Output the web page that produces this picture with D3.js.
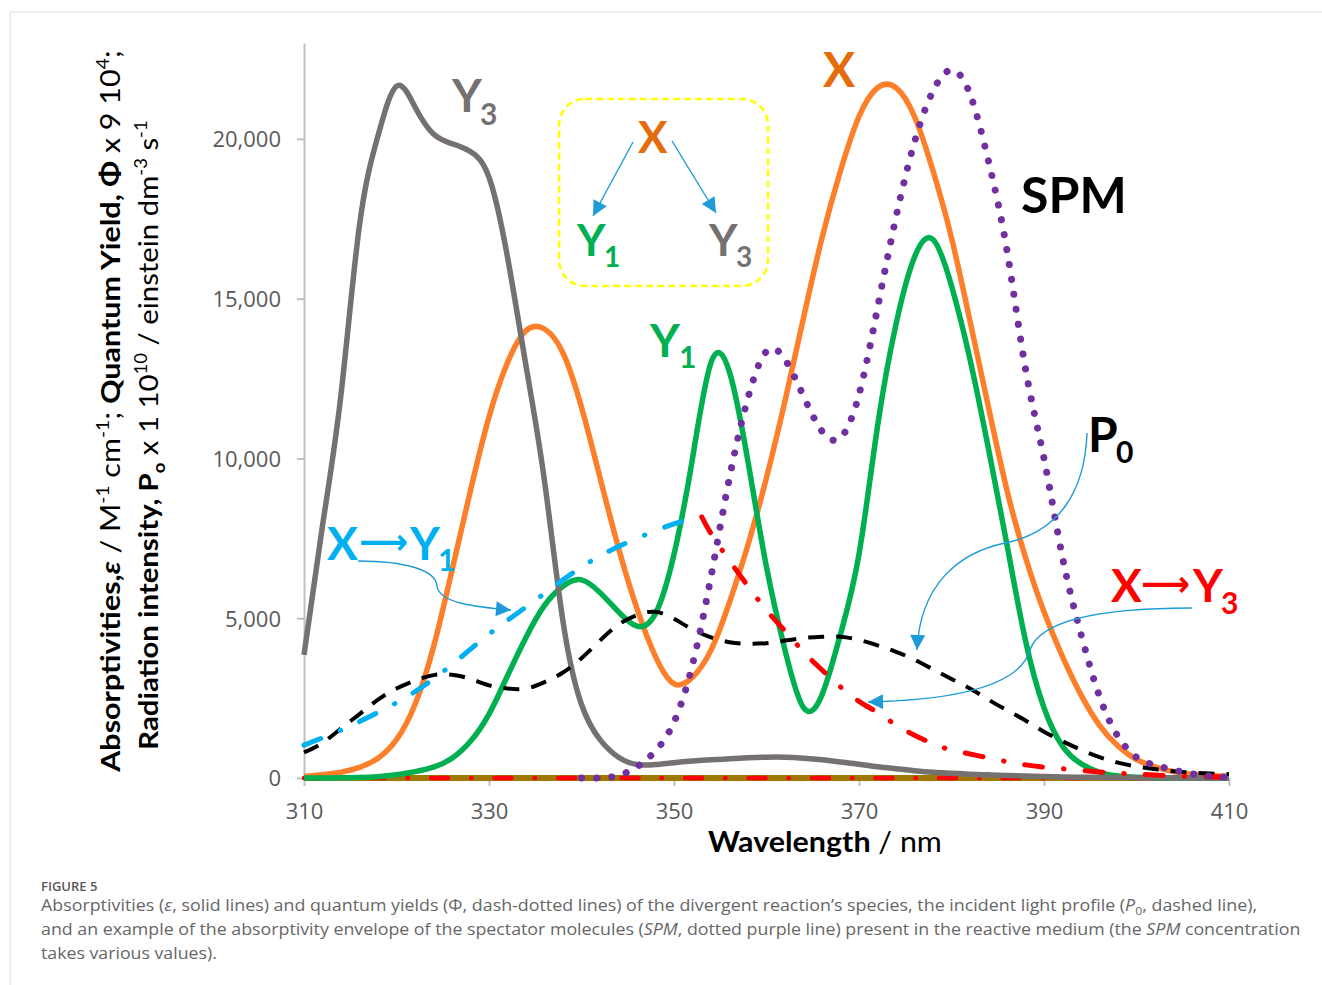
<!DOCTYPE html>
<head>
  <meta charset="utf-8">
  <title>Figure 5</title>
  <style>
    body { margin: 0; background: #fff; }
    svg { display: block; }
  </style>
</head>
<body>
<script src="https://cdn.jsdelivr.net/npm/d3@7"></script>
<script>

// wavelength grid (nm) shared by the absorptivities and P0
const nm = [310, 312, 314, 316, 318, 320, 322, 324, 326, 328, 330, 332, 334, 336, 338, 340, 342, 344, 346, 348,
  350, 352, 354, 356, 358, 360, 362, 364, 366, 368, 370, 372, 374, 376, 378, 380, 382, 384, 386, 388,
  390, 392, 394, 396, 398, 400, 402, 404, 406, 408, 410]

const epsX = [50, 100, 180, 330, 620, 1200, 2300, 4100, 6500, 9000, 11300, 13000, 14000, 14050, 13300, 11600, 9400, 7200, 5300, 3800,
  2950, 3150, 4000, 5500, 7300, 9400, 11800, 14400, 16900, 19000, 20700, 21600, 21600, 20700, 19000, 16900, 14300, 11600, 9000, 6900,
  5200, 3800, 2600, 1650, 1000, 580, 350, 200, 120, 80, 50]

const epsY1 = [0, 0, 5, 15, 40, 100, 200, 340, 620, 1150, 2000, 3200, 4400, 5400, 6000, 6200, 5800, 5200, 4750, 5150,
  7000, 10000, 13000, 12700, 9900, 6600, 4000, 2200, 2600, 4500, 7000, 11000, 14200, 16300, 16850, 15400, 13100, 10300, 7300, 4300,
  2200, 1000, 450, 180, 60, 20, 5, 0, 0, 0, 0]

const epsY3 = [3850, 7900, 12000, 17300, 20100, 21650, 21000, 20150, 19850, 19600, 18800, 16300, 12900, 9300, 4900, 2300, 1200, 650, 420, 420,
  480, 530, 570, 600, 630, 650, 650, 620, 570, 500, 430, 350, 290, 230, 180, 150, 120, 100, 80, 60,
  45, 35, 25, 20, 15, 10, 8, 5, 3, 2, 0]

const epsSPM = [null, null, null, null, null, null, null, null, null, null, null, null, null, null, null, 0, 0, 80, 350, 850,
  1750, 3550, 6300, 9400, 11900, 13350, 13100, 11950, 10850, 10650, 12000, 14700, 17550, 19900, 21500, 22150, 21400, 19300, 16500, 12800,
  10000, 6900, 4500, 2550, 1300, 650, 400, 250, 130, 60, 20]

const p0 = [800, 1100, 1550, 2000, 2450, 2800, 3050, 3220, 3230, 3100, 2900, 2800, 2800, 3000, 3300, 3750, 4300, 4800, 5100, 5200,
  4980, 4650, 4400, 4250, 4200, 4220, 4300, 4380, 4420, 4420, 4320, 4150, 3950, 3700, 3400, 3100, 2800, 2450, 2120, 1800,
  1450, 1150, 880, 650, 480, 360, 280, 210, 170, 140, 120]

// quantum yields (x 9 10^4)
const nmPhiY1 = [310, 314, 318, 322, 326, 330, 334, 338, 342, 346, 350, 353]
const phiY1 = [1030, 1500, 2050, 2700, 3550, 4500, 5350, 6200, 6950, 7500, 7950, 8170]

const nmPhiY3 = [353, 354, 356, 358, 360, 362, 364, 366, 368, 370, 372, 374, 376, 378, 380, 384, 388, 392, 396, 400, 405, 410]
const phiY3 = [8170, 7650, 6800, 6000, 5250, 4600, 3950, 3380, 2850, 2400, 2050, 1660, 1340, 1070, 880, 630, 410, 290, 190, 120, 60, 30]

// flat series lying on the axis
const nmFlat = [310, 410]
const flat = [0, 0]

const xTicks = [310, 330, 350, 370, 390, 410]
const yTicks = [0, 5000, 10000, 15000, 20000]

const width = 1322
const height = 985

const x = d3.scaleLinear().domain([310, 410]).range([304, 1229])
const y = d3.scaleLinear().domain([0, 23000]).range([778, 43])

let svg = d3.select("body").append("svg")
    .attr("width", width)
    .attr("height", height)
    .style("font-family", "Lato, 'Open Sans', sans-serif")

// page frame
svg.append("line").attr("x1", 10).attr("x2", width).attr("y1", 12).attr("y2", 12)
    .attr("stroke", "#dcdcdc").attr("stroke-width", 1)
svg.append("line").attr("x1", 10).attr("x2", 10).attr("y1", 12).attr("y2", height)
    .attr("stroke", "#dcdcdc").attr("stroke-width", 1)

// axes
let gx = svg.append("g")
    .attr("transform", `translate(0,${y(0)})`)
    .call(d3.axisBottom(x).tickValues(xTicks).tickSize(8).tickSizeOuter(0).tickFormat(d3.format("d")))
gx.select(".domain").attr("stroke", "#bfbfbf").attr("stroke-width", 2)
gx.selectAll(".tick line").attr("stroke", "#bfbfbf").attr("stroke-width", 2)
gx.selectAll(".tick text")
    .attr("font-family", "'Open Sans'").attr("font-size", 22).attr("fill", "#595959")
    .attr("dy", null).attr("y", 41)

let gy = svg.append("g")
    .attr("transform", `translate(${x(310)},0)`)
    .call(d3.axisLeft(y).tickValues(yTicks).tickSize(7).tickSizeOuter(0).tickFormat(d3.format(",")))
gy.select(".domain").attr("stroke", "#bfbfbf").attr("stroke-width", 2)
gy.selectAll(".tick line").attr("stroke", "#bfbfbf").attr("stroke-width", 2)
gy.selectAll(".tick text")
    .attr("font-family", "'Open Sans'").attr("font-size", 22).attr("fill", "#595959")
    .attr("x", -23).attr("dy", "0.36em")

// series
const line = d3.line()
    .defined(d => d[1] != null)
    .x(d => x(d[0]))
    .y(d => y(d[1]))
    .curve(d3.curveNatural)

function drawSeries(xs, ys, color, w, dash, cap) {
  svg.append("path")
      .datum(d3.zip(xs, ys))
      .attr("d", line)
      .attr("fill", "none")
      .attr("stroke", color)
      .attr("stroke-width", w)
      .attr("stroke-dasharray", dash)
      .attr("stroke-linecap", cap || "butt")
      .attr("stroke-linejoin", "round")
}

drawSeries(nmFlat, flat, "#a07800", 6)
drawSeries(nmFlat, flat, "#ff0000", 4.5, "17,23,0.5,23", "round")
drawSeries(nm, epsX, "#fd7f2a", 5.5)
drawSeries(nm, epsY1, "#00b050", 5.5)
drawSeries(nm, epsY3, "#767171", 5.5)
drawSeries(nm, p0, "#000000", 4, "16,12")
drawSeries(nmPhiY1, phiY1, "#00b0f0", 5, "18,21,0.5,21", "round")
drawSeries(nmPhiY3, phiY3, "#ff0000", 5, "18,21,0.5,21", "round")
drawSeries(nm, epsSPM, "#7030a0", 7, "0.1,15", "round")

// axis titles
let xt = svg.append("text")
    .attr("font-size", 28)
    .attr("fill", "#000")
xt.append("tspan").attr("font-weight", 700).text("Wavelength")
xt.append("tspan").text("  / nm")
xt.attr("transform", `translate(708,852) scale(${234 / xt.node().getComputedTextLength()},1)`)

function richText(g, parts, w) {
  let t = g.append("text").attr("text-anchor", "middle").attr("font-size", 27)
  let cur = 0
  parts.forEach(p => {
    let off = p.sup ? -11 : p.sub ? 7 : 0
    let ts = t.append("tspan").attr("dy", off - cur).text(p.t)
    cur = off
    if (p.sup || p.sub) ts.attr("font-size", 17)
    if (p.b) ts.attr("font-weight", 700)
    if (p.i) ts.attr("font-style", "italic")
  })
  t.attr("transform", `scale(${w / t.node().getComputedTextLength()},1)`)
  return t
}

richText(svg.append("g").attr("transform", "translate(120,411) rotate(-90)"), [
  {t: "Absorptivities,", b: 1}, {t: "ε", b: 1, i: 1}, {t: "  / M"}, {t: "-1", sup: 1}, {t: " cm"}, {t: "-1", sup: 1},
  {t: "; "}, {t: "Quantum Yield, Φ", b: 1}, {t: " x 9 10"}, {t: "4", sup: 1}, {t: ";"}
], 722)

richText(svg.append("g").attr("transform", "translate(158,435) rotate(-90)"), [
  {t: "Radiation intensity, P", b: 1}, {t: "o", sub: 1, b: 1}, {t: " x 1 10"}, {t: "10", sup: 1},
  {t: " / einstein dm"}, {t: "-3", sup: 1}, {t: " s"}, {t: "-1", sup: 1}
], 630)

// curve labels
function word(px, py, size, color, txt) {
  svg.append("text")
      .attr("x", px).attr("y", py)
      .attr("font-size", size).attr("font-weight", 700)
      .attr("fill", color)
      .text(txt)
}
function longArrow(px, py, w, color) {
  svg.append("text")
      .attr("x", px).attr("y", py)
      .attr("font-family", "'DejaVu Sans'").attr("font-weight", 700)
      .attr("font-size", 36)
      .attr("textLength", w).attr("lengthAdjust", "spacingAndGlyphs")
      .attr("fill", color)
      .text("⟶")
}

word(452, 112, 46, "#767171", "Y")
word(480, 125, 30, "#767171", "3")
word(823, 87, 48, "#e46c0a", "X")
word(1021, 213, 50, "#000", "SPM")
word(650, 357, 46, "#00b050", "Y")
word(679, 368, 30, "#00b050", "1")
word(1088, 452, 48, "#000", "P")
word(1116, 463, 30, "#000", "0")

word(1111, 602, 46, "#ff0000", "X")
longArrow(1141, 596, 49, "#ff0000")
word(1193, 602, 46, "#ff0000", "Y")
word(1221, 614, 30, "#ff0000", "3")

word(327, 560, 46, "#00b0f0", "X")
longArrow(359, 554, 49, "#00b0f0")
word(410, 560, 46, "#00b0f0", "Y")
word(438, 571, 30, "#00b0f0", "1")

// scheme inset
svg.append("rect")
    .attr("x", 559).attr("y", 99).attr("width", 209).attr("height", 187)
    .attr("rx", 26)
    .attr("fill", "none")
    .attr("stroke", "#ffff00").attr("stroke-width", 2.5)
    .attr("stroke-dasharray", "7,4")
word(638, 153, 44, "#e46c0a", "X")
word(577, 256, 44, "#00b050", "Y")
word(604, 267, 28, "#00b050", "1")
word(709, 256, 44, "#767171", "Y")
word(736, 267, 28, "#767171", "3")

// arrows
let defs = svg.append("defs")
defs.append("marker")
    .attr("id", "head")
    .attr("viewBox", "0 0 10 10")
    .attr("refX", 10).attr("refY", 5)
    .attr("markerWidth", 18).attr("markerHeight", 15)
    .attr("markerUnits", "userSpaceOnUse")
    .attr("orient", "auto")
  .append("path")
    .attr("d", "M0,0L10,5L0,10z")
    .attr("fill", "#1f9bd7")

const arrows = [
  "M633,142L593,216",
  "M672,141L716,213",
  "M358,561C405,561 436,570 437,586C439,603 475,607 511,610",
  "M1087,433C1085,490 1060,532 1005,543C958,553 920,585 917,650",
  "M1192,608C1100,608 1040,620 1030,650C1020,685 960,700 868,702"
]
svg.selectAll("path.arrow")
  .data(arrows)
  .join("path")
    .attr("class", "arrow")
    .attr("d", d => d)
    .attr("fill", "none")
    .attr("stroke", "#1f9bd7")
    .attr("stroke-width", 1.4)
    .attr("marker-end", "url(#head)")

// caption
svg.append("text")
    .attr("x", 41).attr("y", 891)
    .attr("font-family", "'Open Sans'").attr("font-size", 13).attr("font-weight", 600)
    .attr("fill", "#595959")
    .text("FIGURE 5")

const captionLines = [
  [["Absorptivities ("], ["ε", "i"], [", solid lines) and quantum yields (Φ, dash-dotted lines) of the divergent reaction’s species, the incident light profile ("], ["P", "i"], ["0", "sub"], [", dashed line),"]],
  [["and an example of the absorptivity envelope of the spectator molecules ("], ["SPM", "i"], [", dotted purple line) present in the reactive medium (the "], ["SPM", "i"], [" concentration"]],
  [["takes various values)."]]
]
const captionWidths = [1217, 1260, 176]
const captionY = [911, 935, 959]

captionLines.forEach((parts, i) => {
  let t = svg.append("text")
      .attr("font-family", "'Open Sans'").attr("font-size", 16)
      .attr("fill", "#666")
  let cur = 0
  parts.forEach(p => {
    let off = p[1] === "sub" ? 4 : 0
    let ts = t.append("tspan").attr("dy", off - cur).text(p[0])
    cur = off
    if (p[1] === "i") ts.attr("font-style", "italic")
    if (p[1] === "sub") ts.attr("font-size", 11)
  })
  t.attr("transform", `translate(41,${captionY[i]}) scale(${captionWidths[i] / t.node().getComputedTextLength()},1)`)
})

</script>
</body>
